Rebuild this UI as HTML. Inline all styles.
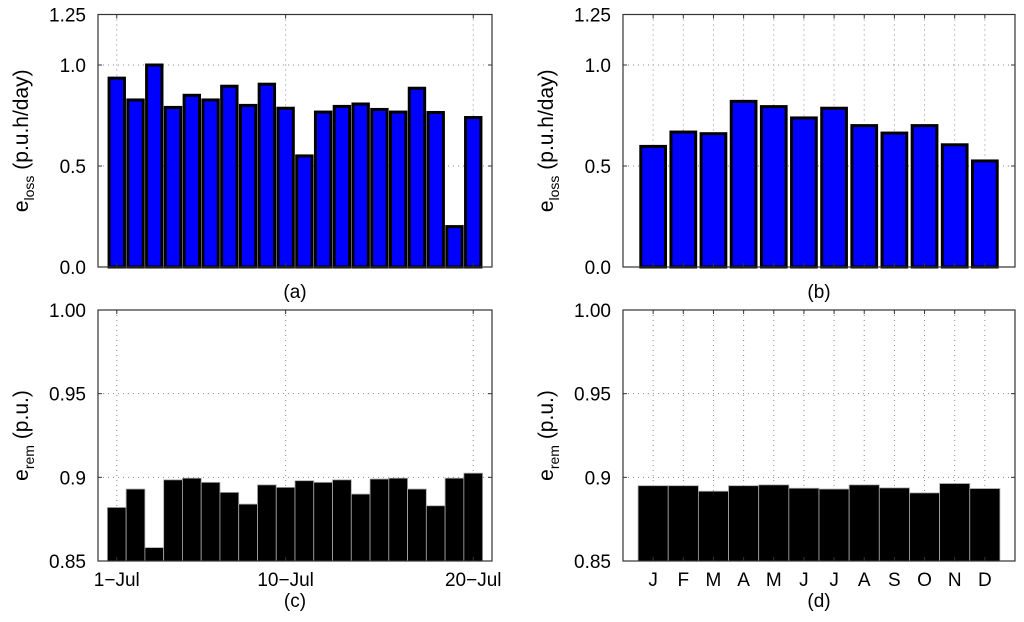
<!DOCTYPE html>
<html><head><meta charset="utf-8"><style>
body{margin:0;background:#fff;}
svg{display:block;font-family:"Liberation Sans",Arial,sans-serif;}
</style></head><body>
<svg id="fig" width="1024" height="622" viewBox="0 0 1024 622"></svg>
<script>
const dayCats = [1,2,3,4,5,6,7,8,9,10,11,12,13,14,15,16,17,18,19,20];
const dayLoss = [0.935,0.827,1.0,0.79,0.85,0.827,0.895,0.80,0.905,0.786,0.55,0.767,0.795,0.807,0.78,0.767,0.885,0.765,0.2,0.74];
const dayRem = [0.882,0.893,0.858,0.8985,0.8995,0.897,0.891,0.884,0.8955,0.894,0.898,0.897,0.8985,0.890,0.899,0.8995,0.893,0.883,0.8995,0.9025];
const dayTickVals = [1,10,20];
const dayTickLabels = ["1\u2212Jul","10\u2212Jul","20\u2212Jul"];
const monthCats = ["J","F","M","A","M","J","J","A","S","O","N","D"];
const monthLoss = [0.597,0.668,0.66,0.82,0.794,0.738,0.786,0.70,0.663,0.70,0.605,0.525];
const monthRem = [0.895,0.895,0.8917,0.895,0.8955,0.8935,0.893,0.8955,0.8937,0.8907,0.8963,0.8933];
const lossTicks = [0,0.5,1.0,1.25];
const lossTickLabels = ["0.0","0.5","1.0","1.25"];
const remTicks = [0.85,0.9,0.95,1.0];
const remTickLabels = ["0.85","0.9","0.95","1.00"];

const NS="http://www.w3.org/2000/svg";
const svg=document.getElementById('fig');
function mk(tag,attrs,parent){const e=document.createElementNS(NS,tag);for(const k in attrs)e.setAttribute(k,attrs[k]);(parent||svg).appendChild(e);return e;}

function panel(o){
  const g=mk('g',{});
  
  
  const n=o.vals.length;
  const xs=v=>o.x0+(v-0)/(n+1)*(o.x1-o.x0);
  const ys=v=>o.y1-(v-o.ymin)/(o.ymax-o.ymin)*(o.y1-o.y0);
  o.yt.forEach(t=>{const y=ys(t);
    const l=mk('line',{x1:o.x0,x2:o.x1,y1:y,y2:y,stroke:'#888','stroke-width':1,'stroke-dasharray':'1,4'},g);
    });
  o.xtv.forEach(t=>{const x=xs(t);
    const l=mk('line',{x1:x,x2:x,y1:o.y0,y2:o.y1,stroke:'#888','stroke-width':1,'stroke-dasharray':'1,4'},g);
    });
  o.vals.forEach((v,i)=>{
    const c=i+1,w=o.bw*(o.x1-o.x0)/(n+1);
    const top=ys(v),bot=ys(o.ymin);
    const r=mk('rect',{x:xs(c)-w/2,y:top,width:w,height:bot-top,fill:o.fill,stroke:o.stroke,'stroke-width':o.sw},g);
    
    
  });
  const f=mk('rect',{x:o.x0,y:o.y0,width:o.x1-o.x0,height:o.y1-o.y0,fill:'none',stroke:'#333','stroke-width':1.2},g);
  
  o.yt.forEach((t,i)=>{const y=ys(t);
    mk('line',{x1:o.x0,x2:o.x0+4,y1:y,y2:y,stroke:'#333'},g);
    mk('line',{x1:o.x1,x2:o.x1-4,y1:y,y2:y,stroke:'#333'},g);
    const tx=mk('text',{x:o.x0-12,y:y+7,'text-anchor':'end','font-size':19},g);
    tx.textContent=o.ytl[i];
    });
  o.xtv.forEach((t,i)=>{const x=xs(t);
    mk('line',{x1:x,x2:x,y1:o.y1,y2:o.y1-4,stroke:'#333'},g);
    mk('line',{x1:x,x2:x,y1:o.y0,y2:o.y0+4,stroke:'#333'},g);
    if(o.xtl){const tx=mk('text',{x:x,y:o.y1+25,'text-anchor':'middle','font-size':19},g);
      tx.textContent=o.xtl[i];
      }});
  const cy=(o.y0+o.y1)/2;
  const yl=mk('text',{transform:`translate(${o.x0-70},${cy}) rotate(-90)`,'text-anchor':'middle','font-size':21},g);
  yl.innerHTML='e<tspan font-size="14" dy="6">'+o.sub+'</tspan><tspan dy="-6">  '+o.unit+'</tspan>';
  
  const pl=mk('text',{x:(o.x0+o.x1)/2,y:o.labY,'text-anchor':'middle','font-size':19},g);
  pl.textContent=o.label;
  
}
const blueStyle={fill:'#0000ff',stroke:'#000',sw:3,bw:0.82};
const blackStyle={fill:'#000',stroke:'#aaa',sw:0.8,bw:1};
panel(Object.assign({name:'panel-a',vals:dayLoss,x0:98,x1:492,y0:14.5,y1:267,ymin:0,ymax:1.25,yt:lossTicks,ytl:lossTickLabels,xtv:dayTickVals,xtl:null,sub:'loss',unit:'(p.u.h/day)',label:'(a)',labY:298},blueStyle));
panel(Object.assign({name:'panel-b',vals:monthLoss,x0:623,x1:1015,y0:14.5,y1:267,ymin:0,ymax:1.25,yt:lossTicks,ytl:lossTickLabels,xtv:monthCats.map((_,i)=>i+1),xtl:null,sub:'loss',unit:'(p.u.h/day)',label:'(b)',labY:298},blueStyle));
panel(Object.assign({name:'panel-c',vals:dayRem,x0:98,x1:492,y0:310,y1:561,ymin:0.85,ymax:1.0,yt:remTicks,ytl:remTickLabels,xtv:dayTickVals,xtl:dayTickLabels,sub:'rem',unit:'(p.u.)',label:'(c)',labY:607},blackStyle));
panel(Object.assign({name:'panel-d',vals:monthRem,x0:623,x1:1015,y0:310,y1:561,ymin:0.85,ymax:1.0,yt:remTicks,ytl:remTickLabels,xtv:monthCats.map((_,i)=>i+1),xtl:monthCats,sub:'rem',unit:'(p.u.)',label:'(d)',labY:607},blackStyle));
</script>
</body></html>
